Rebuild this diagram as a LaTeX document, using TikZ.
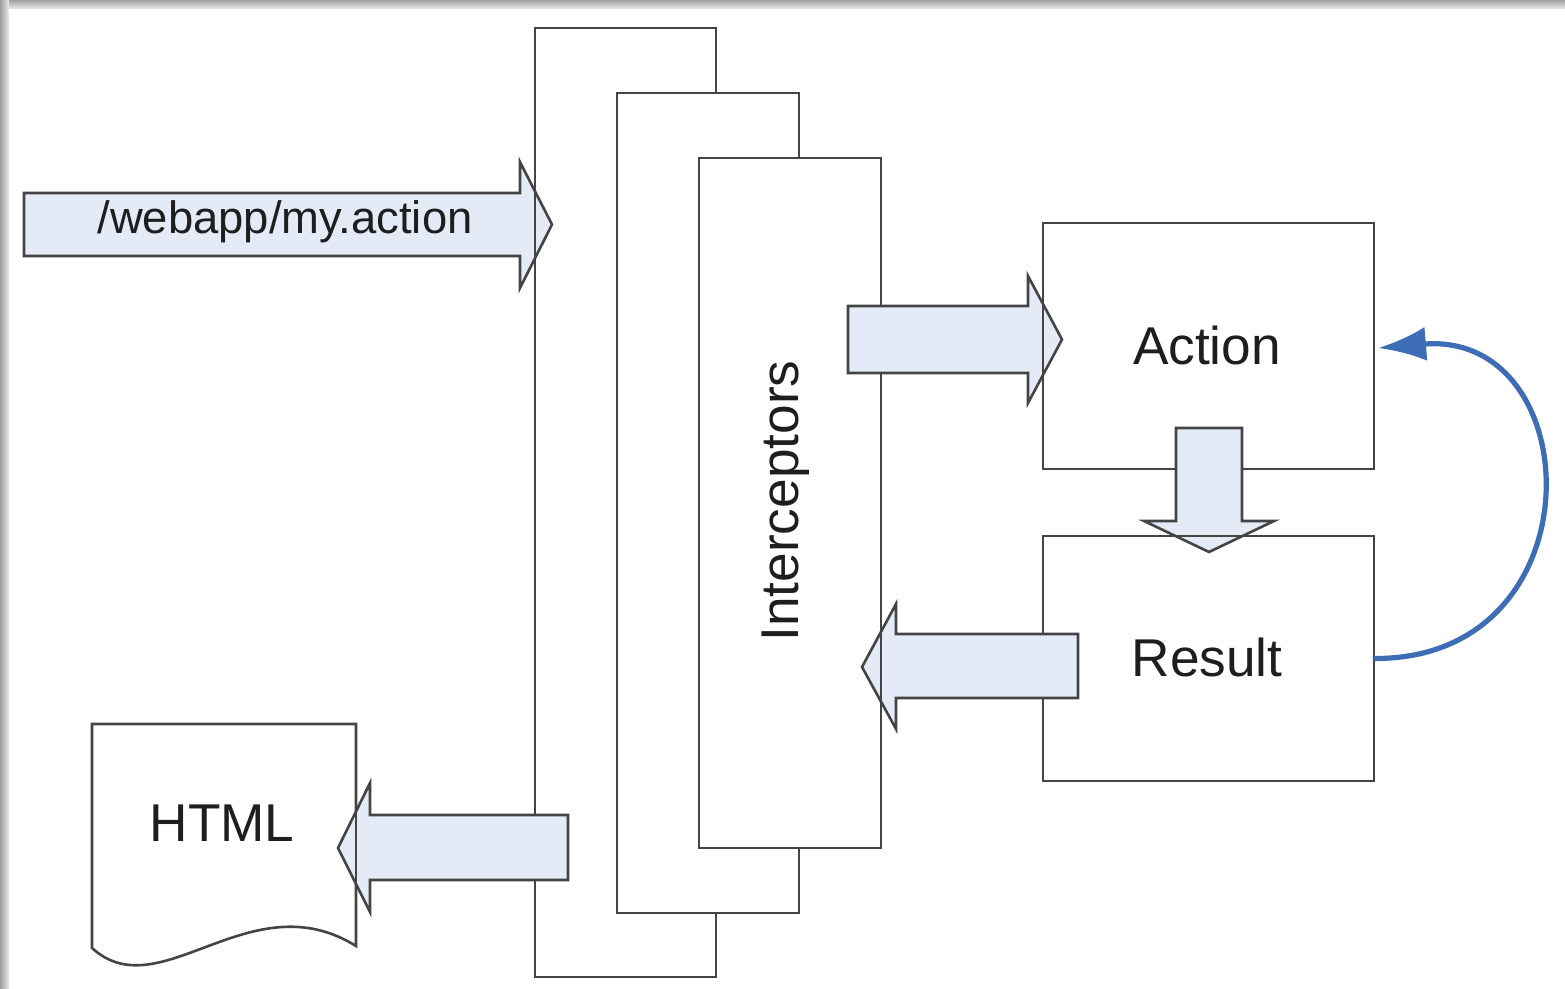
\documentclass[tikz,border=0pt]{standalone}
\usepackage{fontspec}
\setmainfont{Liberation Sans}
\usetikzlibrary{fit,arrows.meta}
\definecolor{edge}{HTML}{444444}
\definecolor{afill}{HTML}{E4EAF6}
\definecolor{loopblue}{HTML}{3D6DB5}
\definecolor{txt}{HTML}{1E1E1E}
\begin{document}
\begin{tikzpicture}[x=0.5pt,y=-0.5pt,
  box/.style={draw=edge, line width=1.3pt, fill=white, inner sep=0pt, outer sep=0pt},
  blockarrow/.style={draw=edge, line width=1.3pt, fill=afill, line join=miter},
  edgeline/.style={draw=edge, line width=1.3pt},
  lbl/.style={text=txt, font=\fontsize{26.6}{30}\selectfont, inner sep=0pt},
  smalllbl/.style={text=txt, font=\fontsize{22.7}{26}\selectfont, inner sep=0pt}]
\useasboundingbox (0,0) rectangle (1565,989);
\fill[white] (0,0) rectangle (1565,989);
\shade[top color=gray!75, bottom color=gray!15] (0,0) rectangle (1565,9);
\shade[left color=gray!75, right color=gray!15] (0,0) rectangle (9,989);

% stacked interceptor frames
\node[box, fit={(535,28) (716,977)}] (r1) {};
\node[box, fit={(617,93) (799,913)}] (r2) {};
\node[box, fit={(699,158) (881,848)}] (r3) {};
\node[lbl, rotate=90] (interceptors) at (786,501) {Interceptors};

% action / result
\node[box, fit={(1043,223) (1374,469)}] (action) {};
\node[lbl] (actionlbl) at (1207,345) {Action};
\node[box, fit={(1043,536) (1374,781)}] (result) {};
\node[lbl] (resultlbl) at (1207,657) {Result};

% HTML document
\coordinate (htmlNW) at (92,724);
\coordinate (htmlNE) at (356,724);
\coordinate (htmlSE) at (356,946);
\draw[edgeline, fill=white] (92,948) -- (htmlNW) -- (htmlNE) -- (htmlSE)
  .. controls (250,880) and (160,1010) .. (92,948) -- cycle;
\node[lbl] (htmllbl) at (222,823) {HTML};

% block arrows
\draw[blockarrow] (24,193) -- (520,193) -- (520,162) -- (552,224.5) -- (520,288) -- (520,256) -- (24,256) -- cycle;
\node[smalllbl] (req) at (285,222) {/webapp/my.action};
\draw[blockarrow] (848,306) -- (1028,306) -- (1028,276) -- (1062,339.5) -- (1028,403) -- (1028,373) -- (848,373) -- cycle;
\draw[blockarrow] (1176,428) -- (1242,428) -- (1242,521) -- (1274,521) -- (1209,552) -- (1144,521) -- (1176,521) -- cycle;
\draw[blockarrow] (1078,634) -- (896,634) -- (896,604) -- (862,667) -- (896,729) -- (896,698) -- (1078,698) -- cycle;
\draw[blockarrow] (568,815) -- (370,815) -- (370,783) -- (338,848) -- (370,912) -- (370,880) -- (568,880) -- cycle;

% edges visible through arrow heads
\begin{scope}\clip (510,150) rectangle (565,300);
  \draw[edgeline] (r1.north west) -- (r1.south west);\end{scope}
\begin{scope}\clip (1018,265) rectangle (1075,415);
  \draw[edgeline] (action.north west) -- (action.south west);\end{scope}
\begin{scope}\clip (1135,512) rectangle (1285,562);
  \draw[edgeline] (result.north west) -- (result.north east);\end{scope}
\begin{scope}\clip (852,592) rectangle (905,742);
  \draw[edgeline] (r3.north east) -- (r3.south east);\end{scope}
\begin{scope}\clip (328,772) rectangle (380,922);
  \draw[edgeline] (htmlNE) -- (htmlSE);\end{scope}

% loop arrow
\coordinate (looptip) at (1378,348);
\draw[loopblue, line width=2.6pt, -{Latex[length=24pt,width=17pt]}]
  (result.east) .. controls (1600,660) and (1590,330) .. (looptip);
\end{tikzpicture}
\end{document}
